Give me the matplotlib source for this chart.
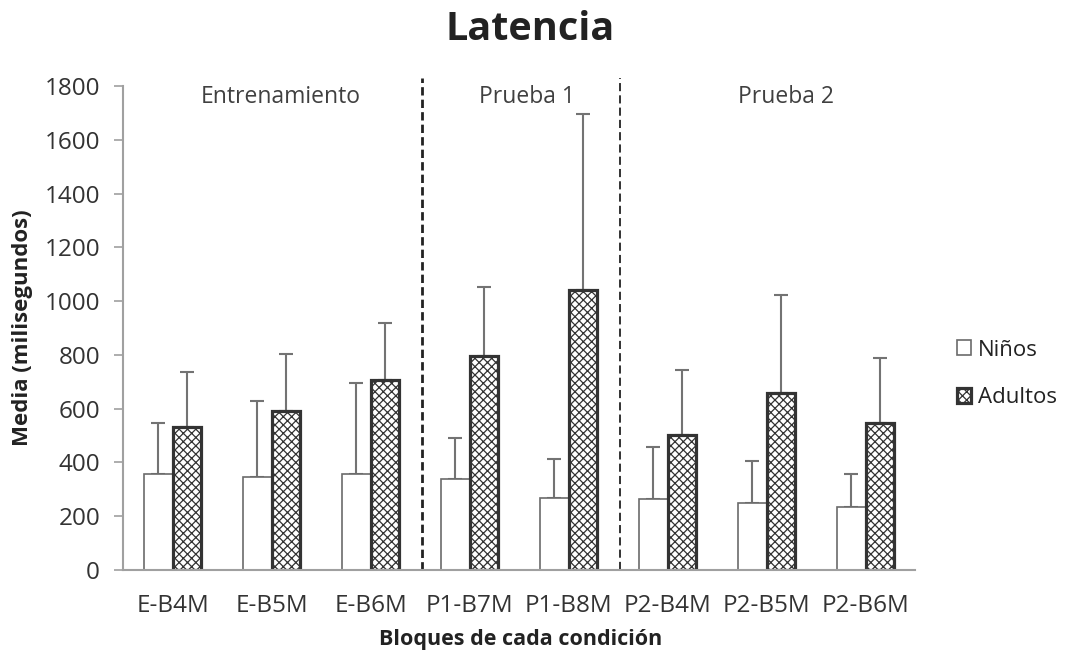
import numpy as np
import matplotlib
matplotlib.use("Agg")
import matplotlib.pyplot as plt

# data
categorias = ["E-B4M", "E-B5M", "E-B6M", "P1-B7M", "P1-B8M", "P2-B4M", "P2-B5M", "P2-B6M"]
ninos = [357, 347, 357, 337, 266, 263, 248, 233]
ninos_sup = [546, 628, 694, 490, 411, 456, 405, 357]
adultos = [530, 592, 706, 796, 1043, 502, 657, 545]
adultos_sup = [737, 804, 919, 1051, 1695, 743, 1022, 789]
secciones = ["Entrenamiento", "Prueba 1", "Prueba 2"]

plt.rcParams['font.family'] = ['Open Sans', 'DejaVu Sans']
plt.rcParams['hatch.linewidth'] = 0.9

fig = plt.figure(figsize=(10.66, 6.55), dpi=100)
ax = fig.add_axes([0.1154, 0.1298, 0.7430, 0.7389])

x = np.arange(len(categorias))
w = 0.285
ninos = np.array(ninos)
adultos = np.array(adultos)
err_n = np.array(ninos_sup) - ninos
err_a = np.array(adultos_sup) - adultos

gris = "#737373"
ax.bar(x - w/2, ninos, w, color="white", edgecolor="#6b6b6b", linewidth=1.2, label="Niños", zorder=2)
ax.bar(x + w/2, adultos, w, color="white", edgecolor="#333333", linewidth=2.3, hatch="xxxx", label="Adultos", zorder=2)
ax.errorbar(x - w/2, ninos, yerr=[np.zeros_like(err_n), err_n], fmt="none", ecolor=gris,
            elinewidth=1.5, capsize=5, capthick=1.5, zorder=1)
ax.errorbar(x + w/2, adultos, yerr=[np.zeros_like(err_a), err_a], fmt="none", ecolor=gris,
            elinewidth=1.5, capsize=5, capthick=1.5, zorder=1)

# separators between conditions
ax.vlines(2.52, 0, 1830, colors="#222222", linestyles=(0, (3, 1.5)), linewidth=2.0, clip_on=False)
ax.vlines(4.52, 0, 1830, colors="#222222", linestyles=(0, (4.5, 2.3)), linewidth=1.3, clip_on=False)

for xs, s in zip([1.09, 3.58, 6.2], secciones):
    ax.text(xs, 1758, s, ha="center", va="center", fontsize=16.5, color="#404040")

ax.set_xlim(-0.5, 7.5)
ax.set_ylim(0, 1800)
ax.set_yticks(range(0, 1801, 200))
ax.set_xticks(x, categorias)
ax.tick_params(axis="y", labelsize=17.5, length=6.5, width=1.2, pad=10, color="#a0a0a0", labelcolor="#333333")
ax.tick_params(axis="x", labelsize=17.5, length=0, pad=17, labelcolor="#333333")
for s in ["top", "right"]:
    ax.spines[s].set_visible(False)
for s in ["left", "bottom"]:
    ax.spines[s].set_color("#a0a0a0")
    ax.spines[s].set_linewidth(1.5)

ax.set_ylabel("Media (milisegundos)", fontsize=16, fontweight="bold", color="#222222")
ax.set_xlabel("Bloques de cada condición", fontsize=15.5, fontweight="bold", color="#222222")
ax.yaxis.set_label_coords(-0.1136, 0.5)
ax.xaxis.set_label_coords(0.5025, -0.121)
fig.suptitle("Latencia", x=0.497, y=0.984, fontsize=28.5, fontweight="bold", color="#222222")

fig.legend(loc="center left", bbox_to_anchor=(0.879, 0.429), frameon=False, fontsize=16,
           handlelength=0.65, handleheight=0.65, handletextpad=0.3, labelspacing=1.2,
           labelcolor="#222222")

fig.savefig("out.png", dpi=100)
